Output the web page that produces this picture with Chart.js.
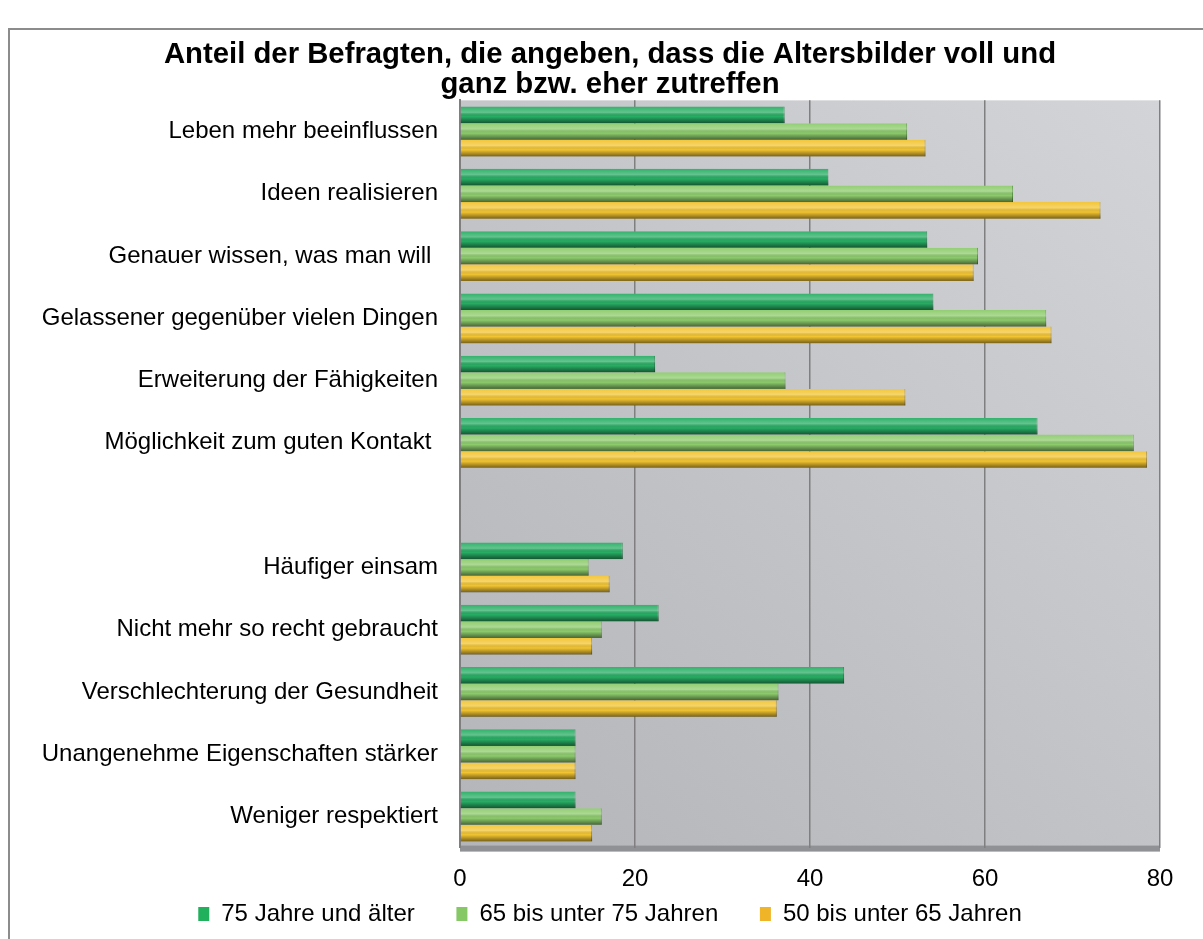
<!DOCTYPE html>
<html>
<head>
<meta charset="utf-8">
<script src="https://cdn.jsdelivr.net/npm/chart.js@4"></script>
<style>
  body { margin: 0; background: #fff; overflow: hidden; }
  #wrap { position: relative; width: 1203px; height: 939px; overflow: hidden; }
  #frame { position: absolute; left: 8px; top: 28px; width: 1300px; height: 1000px; border: 2px solid #8c8c8c; pointer-events: none; }
  canvas { position: absolute; left: 0; top: 0; }
</style>
</head>
<body>
<div id="wrap">
  <div id="frame"></div>
  <canvas id="myChart" width="1215" height="939"></canvas>
</div>
<script>
// ALTERSBILDER - horizontales Balkendiagramm

const labels = [
    'Leben mehr beeinflussen',
    'Ideen realisieren',
    'Genauer wissen, was man will ',
    'Gelassener gegenüber vielen Dingen',
    'Erweiterung der Fähigkeiten',
    'Möglichkeit zum guten Kontakt ',
    '',
    'Häufiger einsam',
    'Nicht mehr so recht gebraucht',
    'Verschlechterung der Gesundheit',
    'Unangenehme Eigenschaften stärker',
    'Weniger respektiert'
];

const werte75 = [37.1, 42.1, 53.4, 54.1, 22.3, 66.0, null, 18.6, 22.7, 43.9, 13.2, 13.2];
const werte65 = [51.1, 63.2, 59.2, 67.0, 37.2, 77.0, null, 14.7, 16.2, 36.4, 13.2, 16.2];
const werte50 = [53.2, 73.2, 58.7, 67.6, 50.9, 78.5, null, 17.1, 15.1, 36.2, 13.2, 15.1];

const xTicks = [0, 20, 40, 60, 80];

const font = "'Liberation Sans', Arial, sans-serif";

// grauer Hintergrund der Zeichenfläche + Boden
const plotBackground = {
    id: 'plotBackground',
    beforeDraw(chart) {
        const { ctx, chartArea: a } = chart;
        ctx.save();
        const g = ctx.createLinearGradient(a.left, a.bottom, a.right, a.top);
        g.addColorStop(0, '#b3b5b8');
        g.addColorStop(1, '#d3d4d7');
        ctx.fillStyle = g;
        ctx.fillRect(a.left, a.top, a.right - a.left, a.bottom - a.top);
        ctx.fillStyle = '#8f9194';
        ctx.fillRect(a.left, a.bottom - 2, a.right - a.left, 6);
        ctx.restore();
    }
};

// Zylinder-Effekt auf den Balken
const barGloss = {
    id: 'barGloss',
    afterDatasetsDraw(chart) {
        const ctx = chart.ctx;
        ctx.save();
        chart.data.datasets.forEach((ds, i) => {
            chart.getDatasetMeta(i).data.forEach(bar => {
                const p = bar.getProps(['x', 'y', 'base', 'height'], true);
                if (!p.height || isNaN(p.x) || p.x === p.base) return;
                const top = p.y - p.height / 2;
                const g = ctx.createLinearGradient(0, top, 0, top + p.height);
                g.addColorStop(0, 'rgba(255,255,255,0.05)');
                g.addColorStop(0.35, 'rgba(255,255,255,0.28)');
                g.addColorStop(0.6, 'rgba(0,0,0,0)');
                g.addColorStop(1, 'rgba(0,0,0,0.5)');
                ctx.fillStyle = g;
                ctx.fillRect(p.base, top, p.x - p.base, p.height);
            });
        });
        ctx.restore();
    }
};

const data = {
    labels: labels,
    datasets: [{
        label: '75 Jahre und älter    ',
        data: werte75,
        backgroundColor: '#27ad63',
        borderColor: '#1a7a45'
    }, {
        label: '65 bis unter 75 Jahren    ',
        data: werte65,
        backgroundColor: '#8ccb6b',
        borderColor: '#5e9a47'
    }, {
        label: '50 bis unter 65 Jahren',
        data: werte50,
        backgroundColor: '#f2c431',
        borderColor: '#a8861c'
    }]
};

const config = {
    type: 'bar',
    data: data,
    options: {
        indexAxis: 'y',
        responsive: false,
        animation: false,
        datasets: {
            bar: {
                categoryPercentage: 0.8,
                barPercentage: 1.0,
                borderWidth: { right: 1 },
                borderSkipped: 'start'
            }
        },
        layout: {
            padding: { left: 8, right: 3, top: 0, bottom: 3 }
        },
        scales: {
            x: {
                min: 0,
                max: 80,
                afterBuildTicks: (scale) => {
                    scale.ticks = xTicks.map(v => ({ value: v }));
                },
                grid: {
                    color: '#7f7f7f',
                    lineWidth: 1.5,
                    drawTicks: true,
                    tickLength: 25,
                    tickColor: 'rgba(0,0,0,0)'
                },
                border: { display: false },
                ticks: {
                    color: '#000',
                    font: { family: font, size: 24, lineHeight: 0.6 },
                    padding: 0
                }
            },
            y: {
                afterFit: (scale) => { scale.width = 452; },
                grid: { display: false },
                border: { display: true, color: '#7f7f7f', width: 2 },
                ticks: {
                    color: '#000',
                    font: { family: font, size: 24 },
                    padding: 14
                }
            },
            // leere Achse rechts, damit Titel und Legende wie im Original zentriert sind
            rechts: {
                type: 'category',
                position: 'right',
                afterFit: (scale) => { scale.width = 52; },
                grid: { display: false },
                border: { display: false },
                ticks: { display: false }
            }
        },
        plugins: {
            title: {
                display: true,
                text: ['Anteil der Befragten, die angeben, dass die Altersbilder voll und', 'ganz bzw. eher zutreffen'],
                color: '#000',
                font: { family: font, size: 29.3, weight: 'bold', lineHeight: 1.03 },
                padding: { top: 40, bottom: 0 }
            },
            legend: {
                position: 'bottom',
                labels: {
                    color: '#000',
                    font: { family: font, size: 24, lineHeight: 1.0 },
                    boxWidth: 11,
                    boxHeight: 14,
                    padding: 15,
                    generateLabels: (chart) => chart.data.datasets.map((ds, i) => ({
                        text: ds.label,
                        fillStyle: ['#21b05c', '#86c866', '#f0b429'][i],
                        strokeStyle: 'transparent',
                        lineWidth: 0,
                        datasetIndex: i
                    }))
                }
            },
            tooltip: { enabled: false }
        }
    },
    plugins: [plotBackground, barGloss]
};

const myChart = new Chart(
    document.getElementById('myChart'),
    config
);
</script>
</body>
</html>
